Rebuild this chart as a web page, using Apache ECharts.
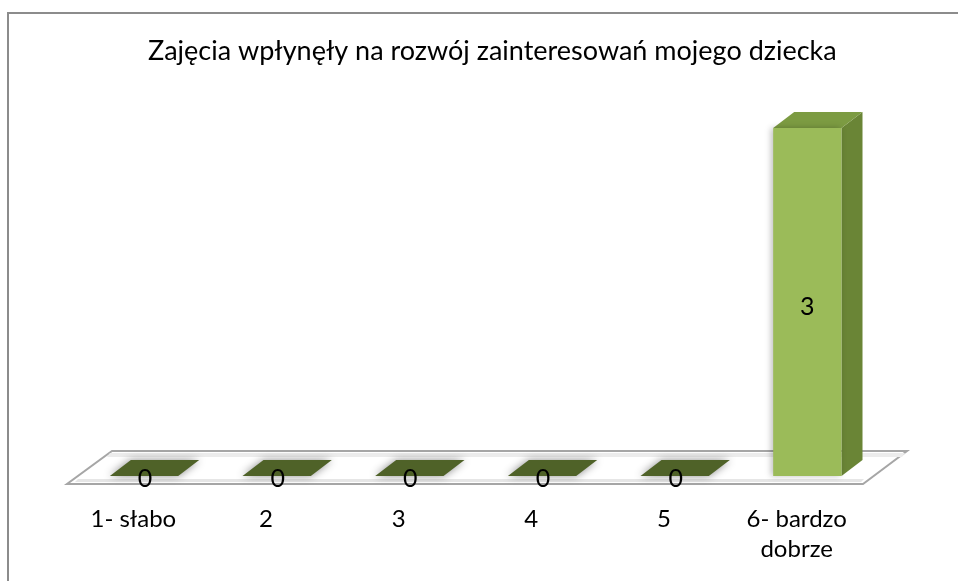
<!DOCTYPE html>
<html>
<head>
<meta charset="utf-8">
<script src="https://cdn.jsdelivr.net/npm/echarts@6/dist/echarts.min.js"></script>
<style>
  html, body { margin: 0; padding: 0; background: #fff; }
  #chart { width: 958px; height: 581px; }
</style>
</head>
<body>
<div id="chart"></div>
<script>
const title = 'Zajęcia wpłynęły na rozwój zainteresowań mojego dziecka'
const categories = ['1- słabo', '2', '3', '4', '5', '6- bardzo\ndobrze']
const values = [0, 0, 0, 0, 0, 3]

const chart = echarts.init(document.getElementById('chart'))

// floor of the 3d plot, drawn once from the grid rectangle
const renderFloor = (params, api) => {
  if (params.dataIndex !== 0) return
  const cs = params.coordSys
  const front = cs.y + cs.height + 8
  const back = cs.y + cs.height - 25
  const left = cs.x
  const right = cs.x + cs.width
  const pts = [[left, front], [right, front], [right + 44, back], [left + 45, back]]
  return {
    type: 'group',
    children: [
      {
        type: 'polygon',
        shape: { points: pts },
        style: { fill: '#fff', stroke: '#a6a6a6', lineWidth: 2 }
      },
      {
        type: 'polygon',
        shape: { points: [[left + 8, front - 2], [right - 2, front - 2], [right + 1, front - 5], [left + 11, front - 5]] },
        style: { fill: '#e6e6e6' }
      },
      {
        type: 'polygon',
        shape: { points: [[left + 43, back + 2], [right + 42, back + 2], [right + 39, back + 6], [left + 40, back + 6]] },
        style: { fill: '#ececec' }
      }
    ]
  }
}

const renderBar = (params, api) => {
  const idx = api.value(0)
  const val = api.value(1)
  const p0 = api.coord([idx, 0])
  const p1 = api.coord([idx, val])
  const bw = api.size([1, 0])[0]
  const x0 = p0[0] - 0.177 * bw
  const w = 0.515 * bw
  const dx = 21
  const dy = -16
  const yb = p0[1]
  const yt = p1[1]

  if (val === 0) {
    return {
      type: 'group',
      children: [
        {
          type: 'polygon',
          shape: { points: [[x0, yb], [x0 + w, yb], [x0 + w + dx, yb + dy], [x0 + dx, yb + dy]] },
          style: { fill: '#4f6228', shadowBlur: 8, shadowColor: 'rgba(0,0,0,0.45)' }
        },
        {
          type: 'text',
          style: {
            text: String(val), x: x0 + w / 2 + 1, y: yb + 3,
            align: 'center', verticalAlign: 'middle',
            font: '25px Lato', fill: '#000'
          }
        }
      ]
    }
  }

  return {
    type: 'group',
    children: [
      {
        type: 'polygon',
        shape: { points: [[x0 + w, yb], [x0 + w + dx, yb + dy], [x0 + w + dx, yt + dy], [x0 + w, yt]] },
        style: { fill: '#6a8536' }
      },
      {
        type: 'polygon',
        shape: { points: [[x0, yt], [x0 + w, yt], [x0 + w + dx, yt + dy], [x0 + dx, yt + dy]] },
        style: { fill: '#7c9b42' }
      },
      {
        type: 'rect',
        shape: { x: x0, y: yt, width: w, height: yb - yt },
        style: { fill: '#9bbb59', shadowBlur: 6, shadowColor: 'rgba(0,0,0,0.25)', shadowOffsetX: -2 }
      },
      {
        type: 'text',
        style: {
          text: String(val), x: x0 + w / 2, y: (yt + yb) / 2 + 5,
          align: 'center', verticalAlign: 'middle',
          font: '25px Lato', fill: '#000'
        }
      }
    ]
  }
}

chart.setOption({
  animation: false,
  backgroundColor: '#fff',
  title: {
    text: title,
    left: 143,
    top: 33,
    textStyle: { fontFamily: 'Lato', fontSize: 27, fontWeight: 'normal', color: '#000' }
  },
  graphic: [
    {
      type: 'rect',
      shape: { x: 8, y: 13, width: 1000, height: 700 },
      style: { fill: 'none', stroke: '#8c8c8c', lineWidth: 2 },
      z: -1
    }
  ],
  grid: { left: 67, right: 95, top: 128, bottom: 105 },
  xAxis: {
    type: 'category',
    data: categories,
    boundaryGap: true,
    axisLine: { show: false },
    axisTick: { show: false },
    splitLine: { show: false },
    axisLabel: {
      margin: 28,
      color: '#000',
      fontFamily: 'Lato',
      fontSize: 24,
      lineHeight: 30,
      interval: 0
    }
  },
  yAxis: {
    type: 'value',
    min: 0,
    max: 3,
    show: false
  },
  series: [
    {
      type: 'custom',
      name: 'floor',
      renderItem: renderFloor,
      data: values.map((v, i) => [i, 0]),
      z: 1,
      silent: true
    },
    {
      type: 'custom',
      name: 'wartość',
      renderItem: renderBar,
      data: values.map((v, i) => [i, v]),
      z: 2
    }
  ]
})
</script>
</body>
</html>
